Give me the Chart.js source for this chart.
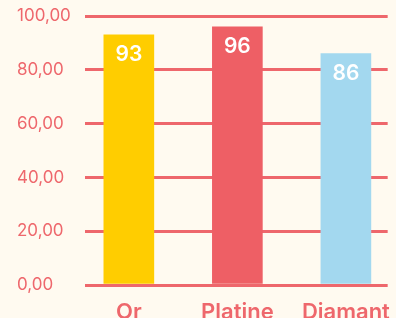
<!DOCTYPE html>
<html>
<head>
<meta charset="utf-8">
<script src="https://cdn.jsdelivr.net/npm/chart.js@4"></script>
<style>
    html, body { margin: 0; padding: 0; background: #fffaf0; overflow: hidden; width: 396px; height: 318px; }
    canvas { display: block; }
</style>
</head>
<body>
<canvas id="medalChart" width="396" height="330"></canvas>
<script>
const categories = ['Or', 'Platine', 'Diamant'];
const scores = [93, 96, 86];
const barColors = ['#ffcd00', '#ee5f65', '#a3d8ef'];
const yTicks = [0, 20, 40, 60, 80, 100];

const red = '#ee676c';

// white value printed near the top of each bar
const valueLabels = {
    id: 'valueLabels',
    afterDatasetsDraw(chart) {
        const ctx = chart.ctx;
        const meta = chart.getDatasetMeta(0);
        ctx.save();
        ctx.fillStyle = '#ffffff';
        ctx.font = '600 21px Inter';
        ctx.textAlign = 'center';
        ctx.textBaseline = 'middle';
        meta.data.forEach((bar, i) => {
            ctx.fillText(String(scores[i]), bar.x, bar.y + 20);
        });
        ctx.restore();
    }
};

new Chart(document.getElementById('medalChart'), {
    type: 'bar',
    data: {
        datasets: [{
            data: scores.map((v, i) => ({ x: i, y: v })),
            backgroundColor: barColors,
            barThickness: 50
        }]
    },
    options: {
        responsive: false,
        animation: false,
        layout: {
            autoPadding: false,
            padding: { left: 17, right: 1, top: 16, bottom: 0 }
        },
        plugins: {
            legend: { display: false },
            tooltip: { enabled: false }
        },
        scales: {
            x: {
                type: 'linear',
                offset: false,
                min: -0.404,
                max: 2.385,
                grid: { display: false },
                border: { display: false },
                afterFit: scale => { scale.height = 45; },
                ticks: {
                    stepSize: 1,
                    includeBounds: false,
                    padding: 6,
                    color: red,
                    font: { family: 'Inter', size: 22, weight: 600 },
                    callback: v => categories[v]
                }
            },
            y: {
                min: 0,
                max: 100,
                afterFit: scale => { scale.width = 68; },
                afterBuildTicks: scale => { scale.ticks = yTicks.map(v => ({ value: v })); },
                grid: { color: red, lineWidth: 3, drawTicks: false },
                border: { display: false },
                ticks: {
                    crossAlign: 'far',
                    color: red,
                    font: { family: 'Inter', size: 17 },
                    callback: v => v.toFixed(2).replace('.', ',')
                }
            }
        }
    },
    plugins: [valueLabels]
});
</script>
</body>
</html>
